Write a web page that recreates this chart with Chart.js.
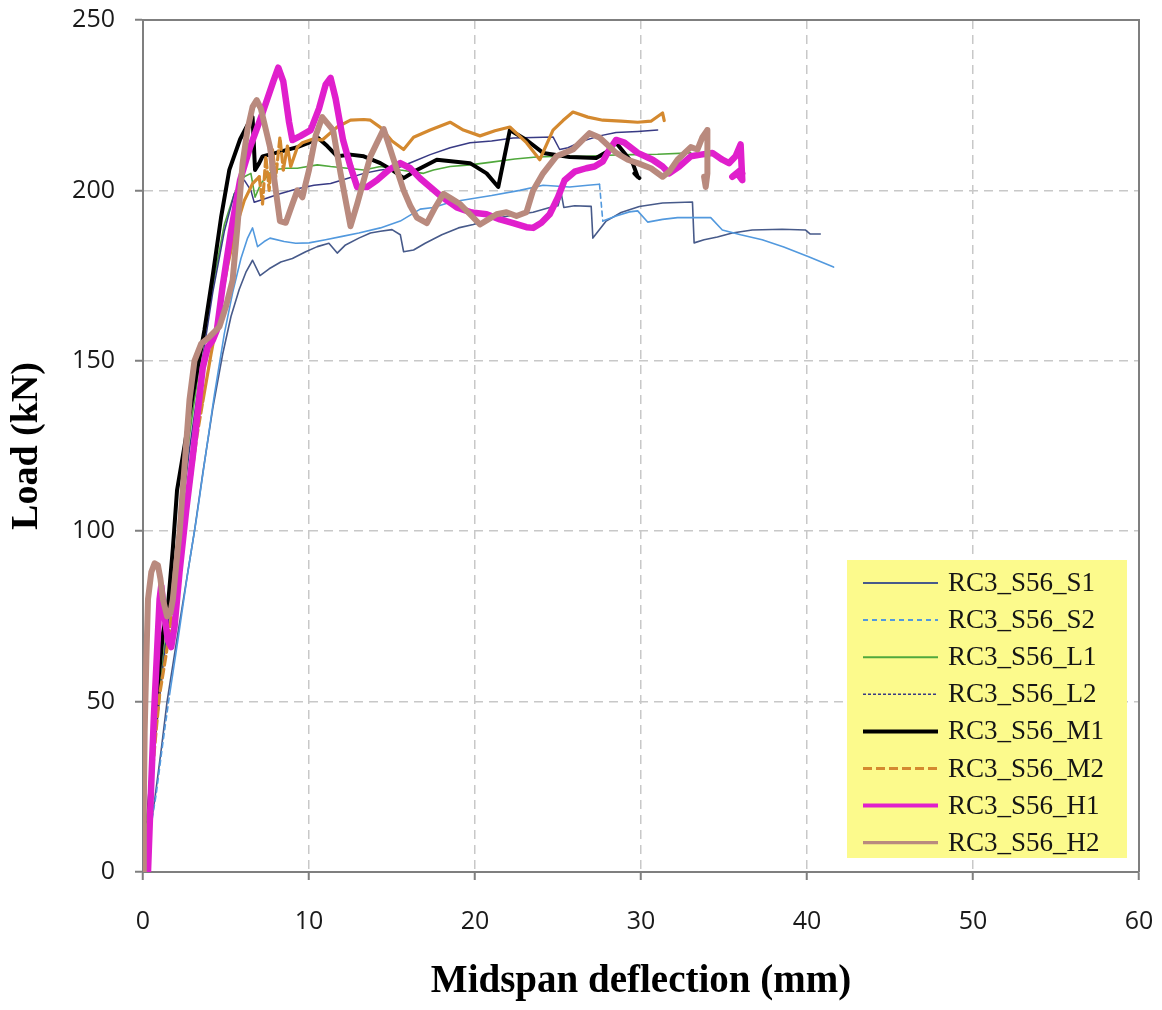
<!DOCTYPE html>
<html>
<head>
<meta charset="utf-8">
<script src="https://cdn.jsdelivr.net/npm/chart.js@4.4.1/dist/chart.umd.min.js"></script>
<style>
  html, body { margin: 0; padding: 0; background: #ffffff; }
  #wrap { width: 1162px; height: 1010px; position: relative; }
</style>
</head>
<body>
<div id="wrap"><canvas id="chart" width="1162" height="1010"></canvas></div>
<script>
// Load–deflection curves, midspan deflection (mm) vs load (kN)
const seriesNames = ['RC3_S56_S1', 'RC3_S56_S2', 'RC3_S56_L1', 'RC3_S56_L2',
                     'RC3_S56_M1', 'RC3_S56_M2', 'RC3_S56_H1', 'RC3_S56_H2'];
const xTicks = [0, 10, 20, 30, 40, 50, 60];
const yTicks = [0, 50, 100, 150, 200, 250];

const defS1 = [0, 0.35, 0.7, 1.1, 1.45, 2.0, 2.6, 3.1, 3.6, 4.2, 4.8, 5.3, 5.8, 6.2, 6.6, 7.05, 7.6, 8.3, 9.0, 9.8, 10.5, 11.2, 11.7, 12.2, 13.0, 13.7, 14.3, 15.0, 15.5, 15.7, 16.3, 17.0, 18.0, 19.0, 19.9, 21.0, 22.0, 23.5, 24.5, 25.0, 25.2, 25.35, 26.0, 27.0, 27.1, 27.5, 27.9, 28.8, 29.9, 31.3, 33.1, 33.2, 33.8, 34.6, 35.5, 36.7, 38.5, 39.9, 40.2, 40.8];
const loadS1 = [0, 10, 21, 36, 50, 67, 85, 100, 117, 136, 152, 163, 171, 176, 179.5, 175, 177, 179, 180, 182, 183.5, 184.5, 181.6, 184, 186, 187.5, 188, 188.5, 187, 182, 182.5, 184.5, 187, 189, 190, 191.5, 192.5, 193.6, 195, 195.5, 199, 195, 195.5, 195.3, 186, 188.5, 191, 193.5, 195.3, 196.3, 196.6, 184.6, 185.5, 186.3, 187.5, 188.4, 188.6, 188.4, 187.2, 187.2];

const defS2 = [0, 0.4, 0.8, 1.2, 1.6, 2.1, 2.7, 3.2, 3.7, 4.3, 4.9, 5.4, 5.9, 6.3, 6.6, 6.9, 7.3, 7.65, 8.5, 9.2, 10, 11, 12, 13, 14.3, 15.5, 16.7, 17.5, 18.5, 19.7, 21, 22.7, 24.1, 25.7, 26.8, 27.5, 27.7, 28.5, 29.3, 29.8, 30.4, 31.3, 32.2, 34.2, 34.9, 36.0, 37.3, 38.6, 40.1, 41.6];
const loadS2 = [0, 11, 23, 38, 52, 68, 88, 103, 120, 140, 158, 170, 180, 186, 189, 183.5, 185, 186, 185, 184.5, 184.6, 185.5, 186.5, 187.5, 189, 191, 194.5, 195, 196.5, 197.5, 198.5, 200, 201.5, 201, 201.5, 201.8, 191, 192.5, 193.7, 194, 190.7, 191.5, 192, 192, 188.4, 187, 185.5, 183.4, 180.5, 177.5];

const defL1 = [0, 0.3, 0.7, 1.2, 1.7, 2.2, 2.8, 3.5, 4.2, 4.9, 5.5, 6.1, 6.5, 6.75, 7.1, 7.8, 8.6, 9.3, 10.5, 11.3, 12.3, 13.3, 14.3, 15.5, 16.9, 17.5, 18.5, 19.7, 21, 22.4, 23.7, 25.2, 26.7, 28, 29.5, 31, 33];
const loadL1 = [0, 18, 38, 62, 82, 104, 128, 152, 172, 190, 199, 204, 205, 198, 202, 206, 206.5, 206.5, 207.5, 207, 206.5, 206, 207, 206, 205, 206, 207, 207.5, 208.3, 209.2, 209.8, 210, 210, 210.3, 210.5, 210.6, 211];

const defL2 = [0, 0.3, 0.7, 1.2, 1.7, 2.2, 2.8, 3.5, 4.2, 4.9, 5.5, 6.1, 6.5, 6.7, 7.3, 8.25, 9.3, 10.3, 11.3, 12.3, 13.3, 14.3, 15.3, 16.3, 17.3, 18.5, 19.7, 21, 22.3, 23.5, 24.7, 25.1, 25.6, 26.5, 27.5, 28.5, 29.8, 31];
const loadL2 = [0, 17, 37, 60, 80, 100, 124, 148, 170, 188, 199, 203, 200, 196.5, 197.5, 199, 200.5, 201.5, 202, 203.5, 205, 206, 206.5, 208.5, 210.5, 212.5, 214, 214.5, 215.4, 215.5, 215.7, 212, 212.5, 214.5, 216, 217, 217.3, 217.7];

const defM1 = [0, 0.3, 0.6, 0.9, 1.2, 1.5, 1.8, 2.05, 2.5, 3.0, 3.7, 4.2, 4.7, 5.2, 5.85, 6.45, 6.6, 6.75, 7.0, 7.2, 8.0, 9.3, 10.0, 10.5, 11.1, 11.7, 12.5, 13.3, 14.3, 15.0, 15.7, 16.5, 17.7, 18.7, 19.7, 20.7, 21.4, 22.1, 23.1, 24.1, 25.7, 27.3, 28.0, 28.5, 29.0, 29.5, 29.8, 29.6, 29.9];
const loadM1 = [0, 15, 35, 55, 70, 78, 95, 112, 125, 140, 159, 175, 192, 206, 215, 220.6, 221.5, 206, 208, 210, 211, 212.7, 214, 215.6, 213, 210, 210.5, 210, 208, 206, 203.6, 206, 209, 208.5, 208, 205, 201, 217.7, 214.8, 211, 209.8, 209.5, 211.5, 214, 211, 208, 204, 205, 203.6];

const defM2 = [0, 0.4, 0.8, 1.0, 1.4, 1.8, 2.3, 2.8, 3.25, 3.6, 4.1, 4.6, 5.1, 5.6, 6.1, 6.6, 7.0, 7.2, 7.4, 7.6, 7.8, 8.0, 8.25, 8.45, 8.7, 8.9, 9.3, 9.6, 10.2, 10.8, 11.7, 12.5, 13.3, 13.7, 14.3, 15.0, 15.7, 16.3, 17.3, 18.5, 19.3, 20.3, 21.2, 22.1, 23.1, 23.9, 24.7, 25.3, 25.9, 26.8, 27.7, 28.8, 29.8, 30.6, 31.3, 31.4];
const loadM2 = [0, 20, 42, 52, 64, 78, 96, 112, 128, 138, 152, 165, 178, 189, 197, 202, 204, 196, 210, 200, 212, 204, 215.6, 206, 213, 207, 212.7, 214, 215, 214.8, 218.6, 220.6, 220.8, 220.6, 218.5, 214.5, 212, 215.6, 217.7, 220, 217.7, 216, 217.5, 218.6, 214, 209, 217.7, 220.5, 223, 221.5, 220.6, 220.3, 220, 220.3, 222.7, 220.5];

const defH1 = [0.3, 0.45, 0.65, 0.85, 1.0, 1.1, 1.3, 1.5, 1.7, 1.9, 2.2, 2.6, 3.0, 3.3, 3.6, 3.9, 4.2, 4.45, 4.8, 5.3, 5.85, 6.45, 7.2, 7.85, 8.15, 8.45, 8.8, 9.0, 9.5, 10.1, 10.6, 11.0, 11.3, 11.6, 12.05, 12.5, 12.9, 13.5, 14.1, 14.8, 15.5, 16.1, 16.7, 17.3, 17.9, 18.9, 19.8, 20.7, 21.5, 22.3, 23.1, 23.5, 24.0, 24.5, 25.0, 25.4, 26.0, 26.7, 27.2, 27.7, 28.1, 28.5, 29.0, 29.8, 30.7, 31.3, 31.7, 32.3, 33.0, 33.6, 34.3, 34.9, 35.3, 35.7, 36.0, 36.1, 35.8, 35.5, 36.0, 36.1];
const loadH1 = [0, 20, 45, 65, 80, 84, 75, 68, 66, 72, 88, 106, 122, 135, 148, 154, 156, 159, 172, 188, 203, 212.7, 222.7, 232, 236, 232, 220, 214.8, 216, 217.7, 224, 231, 233, 227, 214.8, 207, 201, 201, 203, 206, 208, 206.5, 203.5, 201, 198.5, 195, 193.5, 193, 191.5, 190.4, 189.2, 189, 190.5, 193, 198, 203, 205.5, 206.5, 207, 208.5, 212, 214.8, 214, 211, 209, 207, 205, 207, 210, 210.5, 211, 209, 208, 210, 213.5, 203, 205, 204, 206, 205];

const defH2 = [0, 0.05, 0.1, 0.2, 0.3, 0.5, 0.7, 0.9, 1.05, 1.2, 1.45, 1.65, 1.8, 2.0, 2.2, 2.5, 2.8, 3.1, 3.5, 4.0, 4.6, 5.0, 5.4, 5.7, 6.0, 6.3, 6.6, 6.85, 7.1, 7.65, 8.0, 8.25, 8.6, 9.0, 9.3, 9.6, 10.0, 10.4, 10.8, 11.45, 11.9, 12.5, 12.9, 13.3, 13.7, 14.1, 14.5, 14.9, 15.3, 15.7, 16.1, 16.5, 17.1, 17.6, 18.1, 18.6, 19.1, 19.7, 20.3, 20.8, 21.3, 21.9, 22.5, 23.1, 23.5, 24.1, 24.9, 25.9, 26.9, 27.5, 28.5, 29.2, 29.8, 30.6, 31.3, 31.7, 32.2, 33.0, 33.4, 33.7, 34.0, 34.0, 33.9, 33.8];
const loadH2 = [0, 20, 41, 62, 80, 88, 90.6, 90, 86, 80, 75, 76, 80, 90, 99.5, 119, 138.5, 150, 155, 157, 160, 166, 173.7, 190, 208, 218, 224.5, 226.5, 224, 212.7, 200, 191, 190.5, 196, 200, 198, 206, 216, 221.5, 217.7, 205, 189.5, 196, 203, 210, 214, 218, 212, 206, 200, 195.5, 192, 190.4, 195, 199, 197.5, 196, 193, 190, 191.5, 193, 193.6, 192.5, 193.6, 200, 205, 210, 212, 216.8, 215.5, 211, 209, 208, 206.5, 204, 205.5, 209, 212.7, 212, 215.6, 217.7, 205, 201, 204];

const deflections = [defS1, defS2, defL1, defL2, defM1, defM2, defH1, defH2];
const loads = [loadS1, loadS2, loadL1, loadL2, loadM1, loadM2, loadH1, loadH2];

// Line styles for each specimen
const lineColors = ['#475a8a', '#5299de', '#50a83c', '#383a84', '#000000', '#d4892f', '#e01fcc', '#b98a7e'];
const lineWidths = [1.6, 1.6, 1.6, 1.5, 4, 3.2, 6.5, 6];
const legendWidths = [2, 2, 2, 1.6, 4, 3, 4, 3.2];
const legendDashes = [[], [5, 4], [], [3, 2], [], [9, 4], [], []];

const pairs = (xs, ys) => xs.map((x, i) => ({ x: x, y: ys[i] }));

// Long near-vertical drops of the dashed curve keep their dash pattern
const dropDash = (dash) => (ctx) => {
  const dx = Math.abs(ctx.p1.x - ctx.p0.x), dy = Math.abs(ctx.p1.y - ctx.p0.y);
  return (dy > 25 && dx < 8) ? dash : undefined;
};

const datasets = seriesNames.map((name, i) => ({
  label: name,
  data: pairs(deflections[i], loads[i]),
  borderColor: lineColors[i],
  backgroundColor: lineColors[i],
  borderWidth: lineWidths[i],
  pointRadius: 0,
  tension: 0,
  fill: false,
  borderJoinStyle: 'round',
  borderCapStyle: 'round',
  order: seriesNames.length - i,
  segment: legendDashes[i].length ? { borderDash: dropDash(legendDashes[i]) } : {}
}));

// Top and right edges of the plot frame
const framePlugin = {
  id: 'frame',
  afterDraw(chart) {
    const { ctx, chartArea: a } = chart;
    ctx.save();
    ctx.strokeStyle = '#7f7f7f';
    ctx.lineWidth = 2;
    ctx.beginPath();
    ctx.moveTo(a.left - 1, a.top);
    ctx.lineTo(a.right, a.top);
    ctx.lineTo(a.right, a.bottom);
    ctx.stroke();
    ctx.restore();
  }
};

// Boxed legend in the lower-right corner of the plot
const boxLegend = {
  id: 'boxLegend',
  afterDatasetsDraw(chart) {
    const { ctx, chartArea: a } = chart;
    const left = a.right - 292, right = a.right - 12;
    const top = a.bottom - 312, bottom = a.bottom - 14;
    ctx.save();
    ctx.fillStyle = '#fcfa8c';
    ctx.fillRect(left, top, right - left, bottom - top);
    ctx.font = '27px "Liberation Serif", "Times New Roman", serif';
    ctx.textBaseline = 'middle';
    ctx.textAlign = 'left';
    seriesNames.forEach((name, i) => {
      const y = top + 23 + i * 37.1;
      ctx.beginPath();
      ctx.setLineDash(legendDashes[i]);
      ctx.strokeStyle = lineColors[i];
      ctx.lineWidth = legendWidths[i];
      ctx.moveTo(left + 16, y);
      ctx.lineTo(left + 91, y);
      ctx.stroke();
      ctx.setLineDash([]);
      ctx.fillStyle = '#151515';
      ctx.fillText(name, left + 101, y + 1);
    });
    ctx.restore();
  }
};

Chart.defaults.font.family = '"Open Sans", "Liberation Sans", sans-serif';

new Chart(document.getElementById('chart'), {
  type: 'line',
  data: { datasets: datasets },
  plugins: [framePlugin, boxLegend],
  options: {
    responsive: false,
    animation: false,
    devicePixelRatio: 1,
    layout: { padding: { top: 20, right: 23, left: 0, bottom: 0 } },
    plugins: { legend: { display: false }, tooltip: { enabled: false } },
    scales: {
      x: {
        type: 'linear',
        min: xTicks[0],
        max: xTicks[xTicks.length - 1],
        afterBuildTicks: (s) => { s.ticks = xTicks.map(v => ({ value: v })); },
        afterFit: (s) => { s.height = 138; s.paddingLeft = 0; s.paddingRight = 0; },
        ticks: { color: '#1a1a1a', font: { size: 25 }, padding: 27 },
        grid: { color: '#c8c8c8', lineWidth: 1.5, tickColor: '#7f7f7f', tickLength: 8, tickWidth: 2, tickBorderDash: [] },
        border: { display: true, color: '#7f7f7f', width: 2, dash: [9, 6] },
        title: {
          display: true,
          text: 'Midspan deflection (mm)',
          color: '#000000',
          font: { family: '"Liberation Serif", "Times New Roman", serif', size: 39, weight: 'bold' },
          padding: { top: 0, bottom: 5 }
        }
      },
      y: {
        type: 'linear',
        min: yTicks[0],
        max: yTicks[yTicks.length - 1],
        afterBuildTicks: (s) => { s.ticks = yTicks.map(v => ({ value: v })); },
        afterFit: (s) => { s.width = 143; s.paddingTop = 0; s.paddingBottom = 0; },
        ticks: { color: '#1a1a1a', font: { size: 25 }, padding: 20 },
        grid: { color: '#c8c8c8', lineWidth: 1.5, tickColor: '#7f7f7f', tickLength: 8, tickWidth: 2, tickBorderDash: [] },
        border: { display: true, color: '#7f7f7f', width: 2, dash: [9, 6] },
        title: {
          display: true,
          text: 'Load (kN)',
          color: '#000000',
          font: { family: '"Liberation Serif", "Times New Roman", serif', size: 38, weight: 'bold' },
          padding: { top: 4, bottom: 0 }
        }
      }
    }
  }
});
</script>
</body>
</html>
